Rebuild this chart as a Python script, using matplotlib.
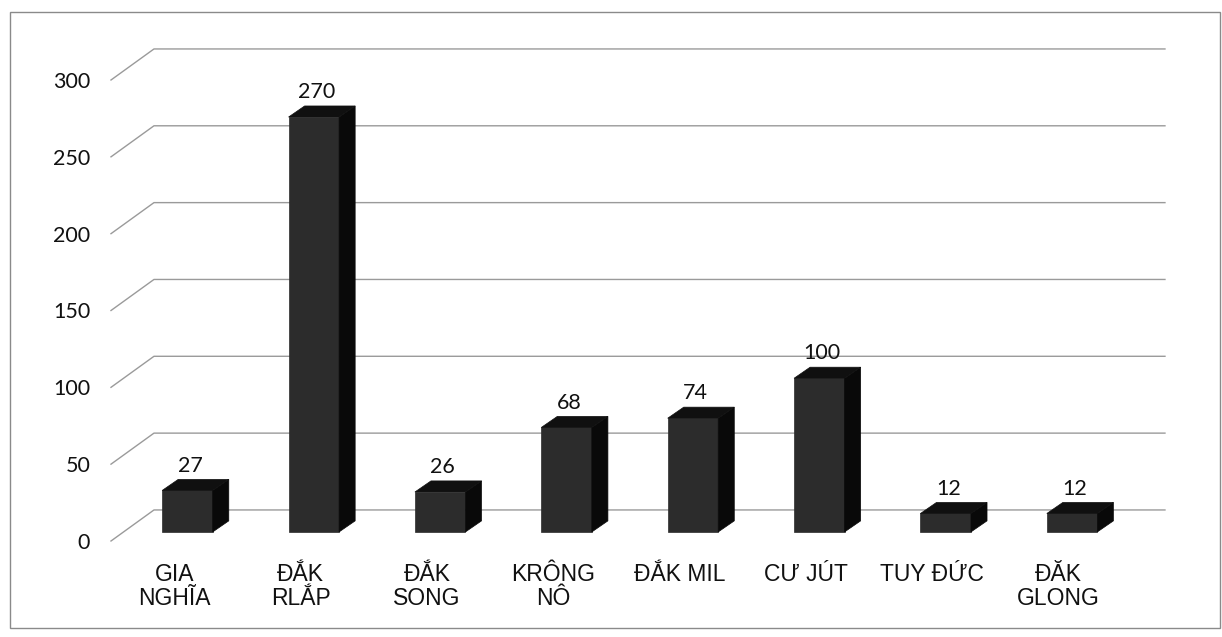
"""3D-style column chart: counts per district (Dak Nong)."""

import matplotlib.pyplot as plt
from matplotlib.patches import Polygon, Rectangle

CATEGORIES = ["GIA\nNGHĨA", "ĐẮK\nRLẮP", "ĐẮK\nSONG", "KRÔNG\nNÔ",
              "ĐẮK MIL", "CƯ JÚT", "TUY ĐỨC", "ĐĂK\nGLONG"]
VALUES = [27, 270, 26, 68, 74, 100, 12, 12]
Y_TICKS = [0, 50, 100, 150, 200, 250, 300]

# oblique projection offsets, in data units (x: category, y: value)
WALL_DX, WALL_DY = 0.34, 20.2      # depth of floor / side wall
BAR_OX, BAR_OY = 0.105, 5.9        # where the bar front face sits
BAR_DX, BAR_DY = 0.127, 7.2        # bar depth
BAR_W = 0.40

FRONT, TOP, SIDE = "#2c2c2c", "#101010", "#090909"
GRID = "#9a9a9a"
XFONT = ["Liberation Sans", "DejaVu Sans"]
NFONT = ["Lato", "DejaVu Sans"]

W, H = 1222, 637
fig = plt.figure(figsize=(W / 100, H / 100), dpi=100)
fig.patches.append(Rectangle((10 / W, 9 / H), 1210 / W, 616 / H,
                             transform=fig.transFigure, fill=False,
                             edgecolor="#8a8a8a", lw=1.0))

ax = fig.add_axes([111 / W, 96 / H, 1011 / W, 461 / H])
ax.set_xlim(-0.5, len(CATEGORIES) - 0.5)
ax.set_ylim(0, 300)
for s in ax.spines.values():
    s.set_visible(False)

# gridlines: slanted on the side wall, then across the back wall
xl, xr = -0.5, len(CATEGORIES) - 0.5
for v in Y_TICKS:
    ax.plot([xl, xl + WALL_DX, xr + WALL_DX], [v, v + WALL_DY, v + WALL_DY],
            color=GRID, lw=1.0, zorder=1, clip_on=False)

for i, v in enumerate(VALUES):
    x0 = i + BAR_OX - BAR_W / 2
    x1 = x0 + BAR_W
    y0, y1 = BAR_OY, BAR_OY + v
    faces = [
        ([(x0, y0), (x1, y0), (x1, y1), (x0, y1)], FRONT),
        ([(x1, y0), (x1 + BAR_DX, y0 + BAR_DY), (x1 + BAR_DX, y1 + BAR_DY), (x1, y1)], SIDE),
        ([(x0, y1), (x1, y1), (x1 + BAR_DX, y1 + BAR_DY), (x0 + BAR_DX, y1 + BAR_DY)], TOP),
    ]
    for pts, c in faces:
        ax.add_patch(Polygon(pts, closed=True, facecolor=c, edgecolor=c,
                             lw=0.5, zorder=3, clip_on=False))
    ax.text(i + BAR_OX + 0.02, y1 + BAR_DY + 9, f"{v}", ha="center", va="center",
            fontsize=15.5, family=NFONT, color="#111111", zorder=4, clip_on=False)

ax.set_yticks(Y_TICKS)
ax.set_yticklabels([str(t) for t in Y_TICKS], family=NFONT, fontsize=15.5, color="#111111")
ax.set_xticks(range(len(CATEGORIES)))
ax.set_xticklabels(CATEGORIES, family=XFONT, fontsize=16.5, color="#111111",
                   linespacing=1.05, multialignment="center")
ax.tick_params(axis="y", length=0, pad=15)
ax.tick_params(axis="x", length=0, pad=16)

fig.savefig("out.png", dpi=100)
